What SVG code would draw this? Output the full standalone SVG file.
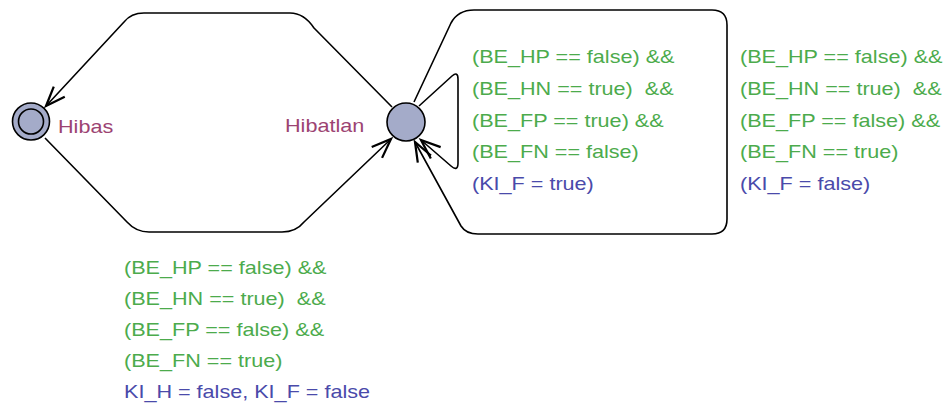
<svg xmlns="http://www.w3.org/2000/svg" width="952" height="405" viewBox="0 0 952 405">
  <style>
    .loc { fill: #a4abc9; stroke: #000; stroke-width: 1.6; }
    .edge { fill: none; stroke: #000; stroke-width: 1.6; stroke-linejoin: round; }
    .t { font-family: "Liberation Sans", Arial, sans-serif; font-size: 18px; }
    .name { fill: #9c4372; }
    .guard { fill: #4cab4c; }
    .assign { fill: #4a4aaa; }
  </style>
  <defs>
    <marker id="arr" markerUnits="userSpaceOnUse" markerWidth="30" markerHeight="30" refX="0" refY="0" viewBox="-15 -10 20 20" orient="auto" overflow="visible">
      <path d="M-13,-5 L0,0 L-13,5" fill="none" stroke="#000" stroke-width="1.5"/>
    </marker>
  </defs>

  <rect width="952" height="405" fill="#fff"/>

  <g id="connectors">
    <!-- Hibatlan -> Hibas (upper route) -->
    <path class="edge" marker-end="url(#arr)" d="M392,107 L314,28 Q304,13 290,13 L144,13 Q131,13 124,22 L46,106"/>
    <!-- Hibas -> Hibatlan (lower route) -->
    <path class="edge" marker-end="url(#arr)" d="M45,138 L127,222 Q136,232 149,232 L282,232 Q296,232 304,222 L391,139"/>
    <!-- Hibatlan self loop, small -->
    <path class="edge" marker-end="url(#arr)" d="M419,106 L452,76 Q458,71 458,79 L458,163 Q458,172 451,166 L421,140"/>
    <!-- Hibatlan self loop, large -->
    <path class="edge" marker-end="url(#arr)" d="M414,102 L451,23 Q458,10 474,10 L712,10 Q727,10 727,25 L727,219 Q727,234 712,234 L478,234 Q466,234 461,226 L415,142"/>
  </g>

  <g id="Hibas">
    <circle class="loc" cx="31" cy="121.5" r="18.5"/>
    <circle cx="31" cy="121.5" r="12.5" fill="none" stroke="#000" stroke-width="1.6"/>
    <g transform="translate(58,133) scale(1.2,1)"><text class="t name">Hibas</text></g>
  </g>

  <g id="Hibatlan">
    <circle class="loc" cx="406" cy="122" r="19"/>
    <g transform="translate(285,132) scale(1.2,1)"><text class="t name">Hibatlan</text></g>
  </g>

  <g id="label-loop-small" transform="translate(472,0) scale(1.2,1)">
    <text class="t guard" x="0" y="63">(BE_HP == false) &amp;&amp;</text>
    <text class="t guard" x="0" y="95" xml:space="preserve">(BE_HN == true)  &amp;&amp;</text>
    <text class="t guard" x="0" y="127">(BE_FP == true) &amp;&amp;</text>
    <text class="t guard" x="0" y="158">(BE_FN == false)</text>
    <text class="t assign" x="0" y="190">(KI_F = true)</text>
  </g>

  <g id="label-loop-large" transform="translate(740,0) scale(1.2,1)">
    <text class="t guard" x="0" y="63">(BE_HP == false) &amp;&amp;</text>
    <text class="t guard" x="0" y="95" xml:space="preserve">(BE_HN == true)  &amp;&amp;</text>
    <text class="t guard" x="0" y="127">(BE_FP == false) &amp;&amp;</text>
    <text class="t guard" x="0" y="158">(BE_FN == true)</text>
    <text class="t assign" x="0" y="190">(KI_F = false)</text>
  </g>

  <g id="label-lower" transform="translate(124,0) scale(1.2,1)">
    <text class="t guard" x="0" y="274">(BE_HP == false) &amp;&amp;</text>
    <text class="t guard" x="0" y="305" xml:space="preserve">(BE_HN == true)  &amp;&amp;</text>
    <text class="t guard" x="0" y="336">(BE_FP == false) &amp;&amp;</text>
    <text class="t guard" x="0" y="367">(BE_FN == true)</text>
    <text class="t assign" x="0" y="398">KI_H = false, KI_F = false</text>
  </g>
</svg>
